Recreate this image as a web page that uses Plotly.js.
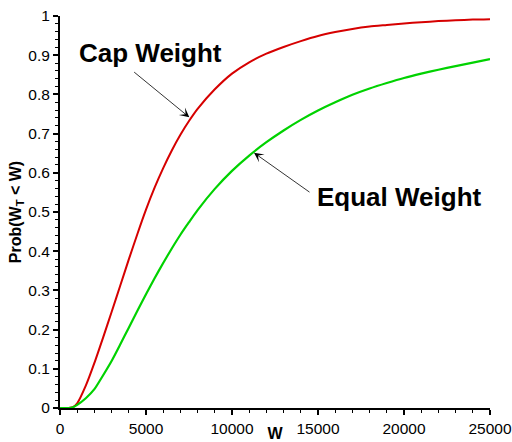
<!DOCTYPE html>
<html>
<head>
<meta charset="utf-8">
<script src="https://cdn.plot.ly/plotly-3.0.1.min.js"></script>
<style>html,body{margin:0;padding:0;background:#fff;}#chart{width:512px;height:442px;}</style>
</head>
<body>
<div id="chart"></div>
<script>
// Wealth grid W
const wealth = [0, 500, 750, 1000, 1500, 2000, 2500, 3000, 3500, 4000, 4500, 5000, 5500, 6000, 6500, 7000, 7500,
  8000, 9000, 10000, 11000, 12000, 13000, 14000, 15000, 16000, 17000, 18000, 19000, 20000, 21000, 22000, 23000, 24000, 25000];
// Prob(W_T < W), Cap Weight
const capWeight = [0, 0, 0.002, 0.012, 0.057, 0.115, 0.179, 0.245, 0.312, 0.379, 0.444, 0.506, 0.562, 0.612, 0.657, 0.697, 0.732,
  0.763, 0.813, 0.853, 0.882, 0.904, 0.921, 0.936, 0.949, 0.959, 0.967, 0.973, 0.977, 0.981, 0.984, 0.987, 0.989, 0.991, 0.992];
// Prob(W_T < W), Equal Weight
const equalWeight = [0, 0, 0.002, 0.008, 0.025, 0.048, 0.083, 0.12, 0.162, 0.205, 0.248, 0.29, 0.331, 0.37, 0.407, 0.442, 0.474,
  0.505, 0.559, 0.605, 0.644, 0.678, 0.708, 0.735, 0.759, 0.78, 0.799, 0.815, 0.829, 0.842, 0.853, 0.863, 0.872, 0.881, 0.89];

// Tick labels
const xTicks = [0, 5000, 10000, 15000, 20000, 25000];
const xTickText = ['0', '5000', '10000', '15000', '20000', '25000'];
const yTicks = [0, 0.1, 0.2, 0.3, 0.4, 0.5, 0.6, 0.7, 0.8, 0.9, 1];
const yTickText = ['0', '0.1', '0.2', '0.3', '0.4', '0.5', '0.6', '0.7', '0.8', '0.9', '1'];

const labels = [
  {text: 'Cap Weight', x: 5250, y: 0.905, tailX: 4225, tailY: 0.860, headX: 7519, headY: 0.7415},
  {text: 'Equal Weight', x: 19767, y: 0.539, tailX: 14593, tailY: 0.548, headX: 11279, headY: 0.651}
];

const FONT = 'Liberation Sans, Arial, Helvetica, sans-serif';
const X_RANGE = [0, 25000];
const Y_RANGE = [0, 1];

const traces = [
  {x: wealth, y: capWeight, type: 'scatter', mode: 'lines', name: 'Cap Weight',
   line: {color: 'rgb(214,0,0)', width: 2, shape: 'spline', smoothing: 0.6}},
  {x: wealth, y: equalWeight, type: 'scatter', mode: 'lines', name: 'Equal Weight',
   line: {color: 'rgb(0,210,0)', width: 2.2, shape: 'spline', smoothing: 0.6}}
];

const annotations = [];
labels.forEach(l => {
  annotations.push({x: l.x, y: l.y, xref: 'x', yref: 'y', text: '<b>' + l.text + '</b>', showarrow: false,
    font: {family: FONT, size: 26, color: '#000'}, xanchor: 'center', yanchor: 'middle'});
  annotations.push({x: l.headX, y: l.headY, xref: 'x', yref: 'y', ax: l.tailX, ay: l.tailY, axref: 'x', ayref: 'y',
    text: '', showarrow: true, arrowhead: 3, arrowsize: 2, arrowwidth: 0.8, arrowcolor: '#000'});
});

const layout = {
  width: 512, height: 442,
  margin: {l: 60, r: 22, t: 16, b: 34},
  paper_bgcolor: '#fff', plot_bgcolor: 'rgba(0,0,0,0)',
  showlegend: false,
  font: {family: FONT, size: 15, color: '#000'},
  xaxis: {
    range: X_RANGE, tickmode: 'array', tickvals: xTicks, ticktext: xTickText,
    ticks: 'outside', ticklen: 5, tickwidth: 2, tickcolor: '#000',
    minor: {ticks: 'outside', tick0: 0, dtick: 1000, ticklen: 3, tickwidth: 1, tickcolor: '#000'},
    showline: true, linewidth: 2, linecolor: '#000', showgrid: false, zeroline: false,
    tickfont: {family: FONT, size: 15.5, color: '#000'},
    title: {text: '<b>W</b>', font: {family: FONT, size: 16, color: '#000'}, standoff: 4}
  },
  yaxis: {
    range: Y_RANGE, tickmode: 'array', tickvals: yTicks, ticktext: yTickText,
    ticks: 'outside', ticklen: 5, tickwidth: 2, tickcolor: '#000',
    minor: {ticks: 'outside', tick0: 0, dtick: 0.02, ticklen: 3, tickwidth: 1, tickcolor: '#000'},
    showline: true, linewidth: 2, linecolor: '#000', showgrid: false, zeroline: false,
    tickfont: {family: FONT, size: 15.5, color: '#000'},
    title: {text: '<b>Prob(W<sub>T</sub> &lt; W)</b>', font: {family: FONT, size: 16, color: '#000'}, standoff: 3}
  },
  annotations: annotations
};

Plotly.newPlot('chart', traces, layout, {displayModeBar: false, staticPlot: true});
</script>
</body>
</html>
